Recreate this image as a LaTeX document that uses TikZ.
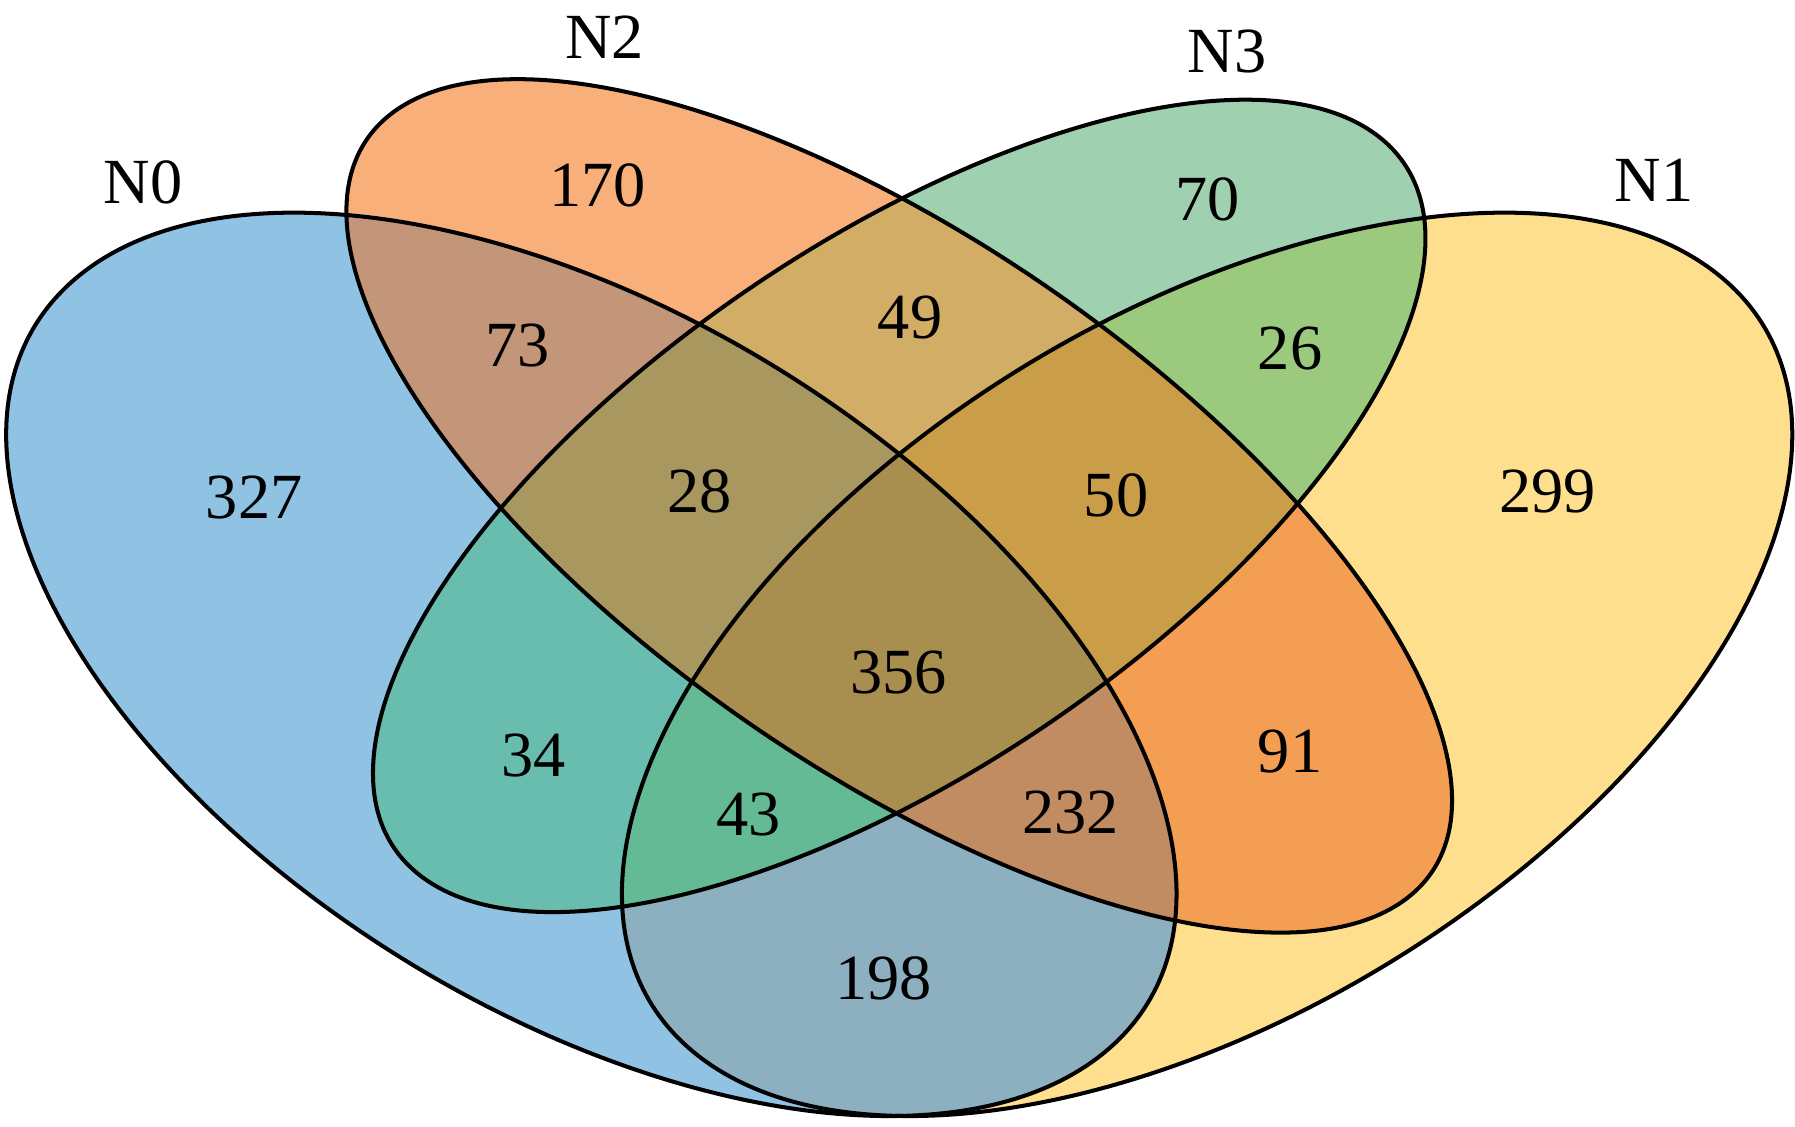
\documentclass[tikz,border=0pt]{standalone}
\usepackage{fontspec}
\setmainfont{Liberation Serif}
\definecolor{cA}{HTML}{90C2E4}
\definecolor{cB}{HTML}{FEDF8E}
\definecolor{cC}{HTML}{F8AF7A}
\definecolor{cD}{HTML}{9FD0B0}
\definecolor{cAB}{HTML}{8CB0C0}
\definecolor{cAC}{HTML}{C39679}
\definecolor{cAD}{HTML}{68BDAE}
\definecolor{cBC}{HTML}{F49E54}
\definecolor{cBD}{HTML}{9BC97E}
\definecolor{cCD}{HTML}{D2AD65}
\definecolor{cACD}{HTML}{A8975E}
\definecolor{cBCD}{HTML}{CA9E48}
\definecolor{cABD}{HTML}{63BA95}
\definecolor{cABC}{HTML}{C18C62}
\definecolor{cABCD}{HTML}{A88F4F}
\tikzset{
  eA/.style={rotate around={-45:(0.35,0.47)}},
  eB/.style={rotate around={45:(0.65,0.47)}},
  eC/.style={rotate around={-45:(0.5,0.57)}},
  eD/.style={rotate around={45:(0.5,0.57)}},
  outline/.style={draw=black, line width=1pt},
  lbl/.style={inner sep=0pt, font=\fontsize{16}{19}\selectfont}
}
\newcommand\clipEA{\clip[eA] (0.35,0.47) ellipse (0.35 and 0.2);}
\newcommand\clipEB{\clip[eB] (0.65,0.47) ellipse (0.35 and 0.2);}
\newcommand\clipEC{\clip[eC] (0.5,0.57) ellipse (0.35 and 0.15);}
\newcommand\clipED{\clip[eD] (0.5,0.57) ellipse (0.33 and 0.15);}
\newcommand\vregion[2]{\begin{scope}#1\fill[#2] (0,0) rectangle (1,1);\end{scope}}
\begin{document}
\begin{tikzpicture}
\useasboundingbox (0,0) rectangle (15.68,9.836);
\begin{scope}[shift={(-1.11cm,-2.472cm)}, xscale=17.93, yscale=13.84]
  % single sets
  \vregion{\clipEA}{cA}
  \vregion{\clipEB}{cB}
  \vregion{\clipEC}{cC}
  \vregion{\clipED}{cD}
  % pairs
  \vregion{\clipEA\clipEB}{cAB}
  \vregion{\clipEA\clipEC}{cAC}
  \vregion{\clipEA\clipED}{cAD}
  \vregion{\clipEB\clipEC}{cBC}
  \vregion{\clipEB\clipED}{cBD}
  \vregion{\clipEC\clipED}{cCD}
  % triples
  \vregion{\clipEA\clipEC\clipED}{cACD}
  \vregion{\clipEB\clipEC\clipED}{cBCD}
  \vregion{\clipEA\clipEB\clipED}{cABD}
  \vregion{\clipEA\clipEB\clipEC}{cABC}
  % all four
  \vregion{\clipEA\clipEB\clipEC\clipED}{cABCD}
  % outlines
  \draw[outline, eA] (0.35,0.47) ellipse (0.35 and 0.2);
  \draw[outline, eB] (0.65,0.47) ellipse (0.35 and 0.2);
  \draw[outline, eC] (0.5,0.57) ellipse (0.35 and 0.15);
  \draw[outline, eD] (0.5,0.57) ellipse (0.33 and 0.15);
\end{scope}
% set names
\node[lbl] (nN0) at (1.25,8.24) {N0};
\node[lbl] (nN2) at (5.28,9.51) {N2};
\node[lbl] (nN3) at (10.72,9.39) {N3};
\node[lbl] (nN1) at (14.45,8.26) {N1};
% counts
\node[lbl] (r327) at (2.22,5.49) {327};
\node[lbl] (r170) at (5.22,8.22) {170};
\node[lbl] (r73)  at (4.52,6.82) {73};
\node[lbl] (r49)  at (7.95,7.06) {49};
\node[lbl] (r70)  at (10.55,8.09) {70};
\node[lbl] (r26)  at (11.27,6.79) {26};
\node[lbl] (r28)  at (6.11,5.54) {28};
\node[lbl] (r50)  at (9.75,5.51) {50};
\node[lbl] (r299) at (13.52,5.54) {299};
\node[lbl] (r356) at (7.85,3.96) {356};
\node[lbl] (r34)  at (4.66,3.24) {34};
\node[lbl] (r91)  at (11.27,3.27) {91};
\node[lbl] (r43)  at (6.54,2.72) {43};
\node[lbl] (r232) at (9.35,2.74) {232};
\node[lbl] (r198) at (7.72,1.29) {198};
\end{tikzpicture}
\end{document}
